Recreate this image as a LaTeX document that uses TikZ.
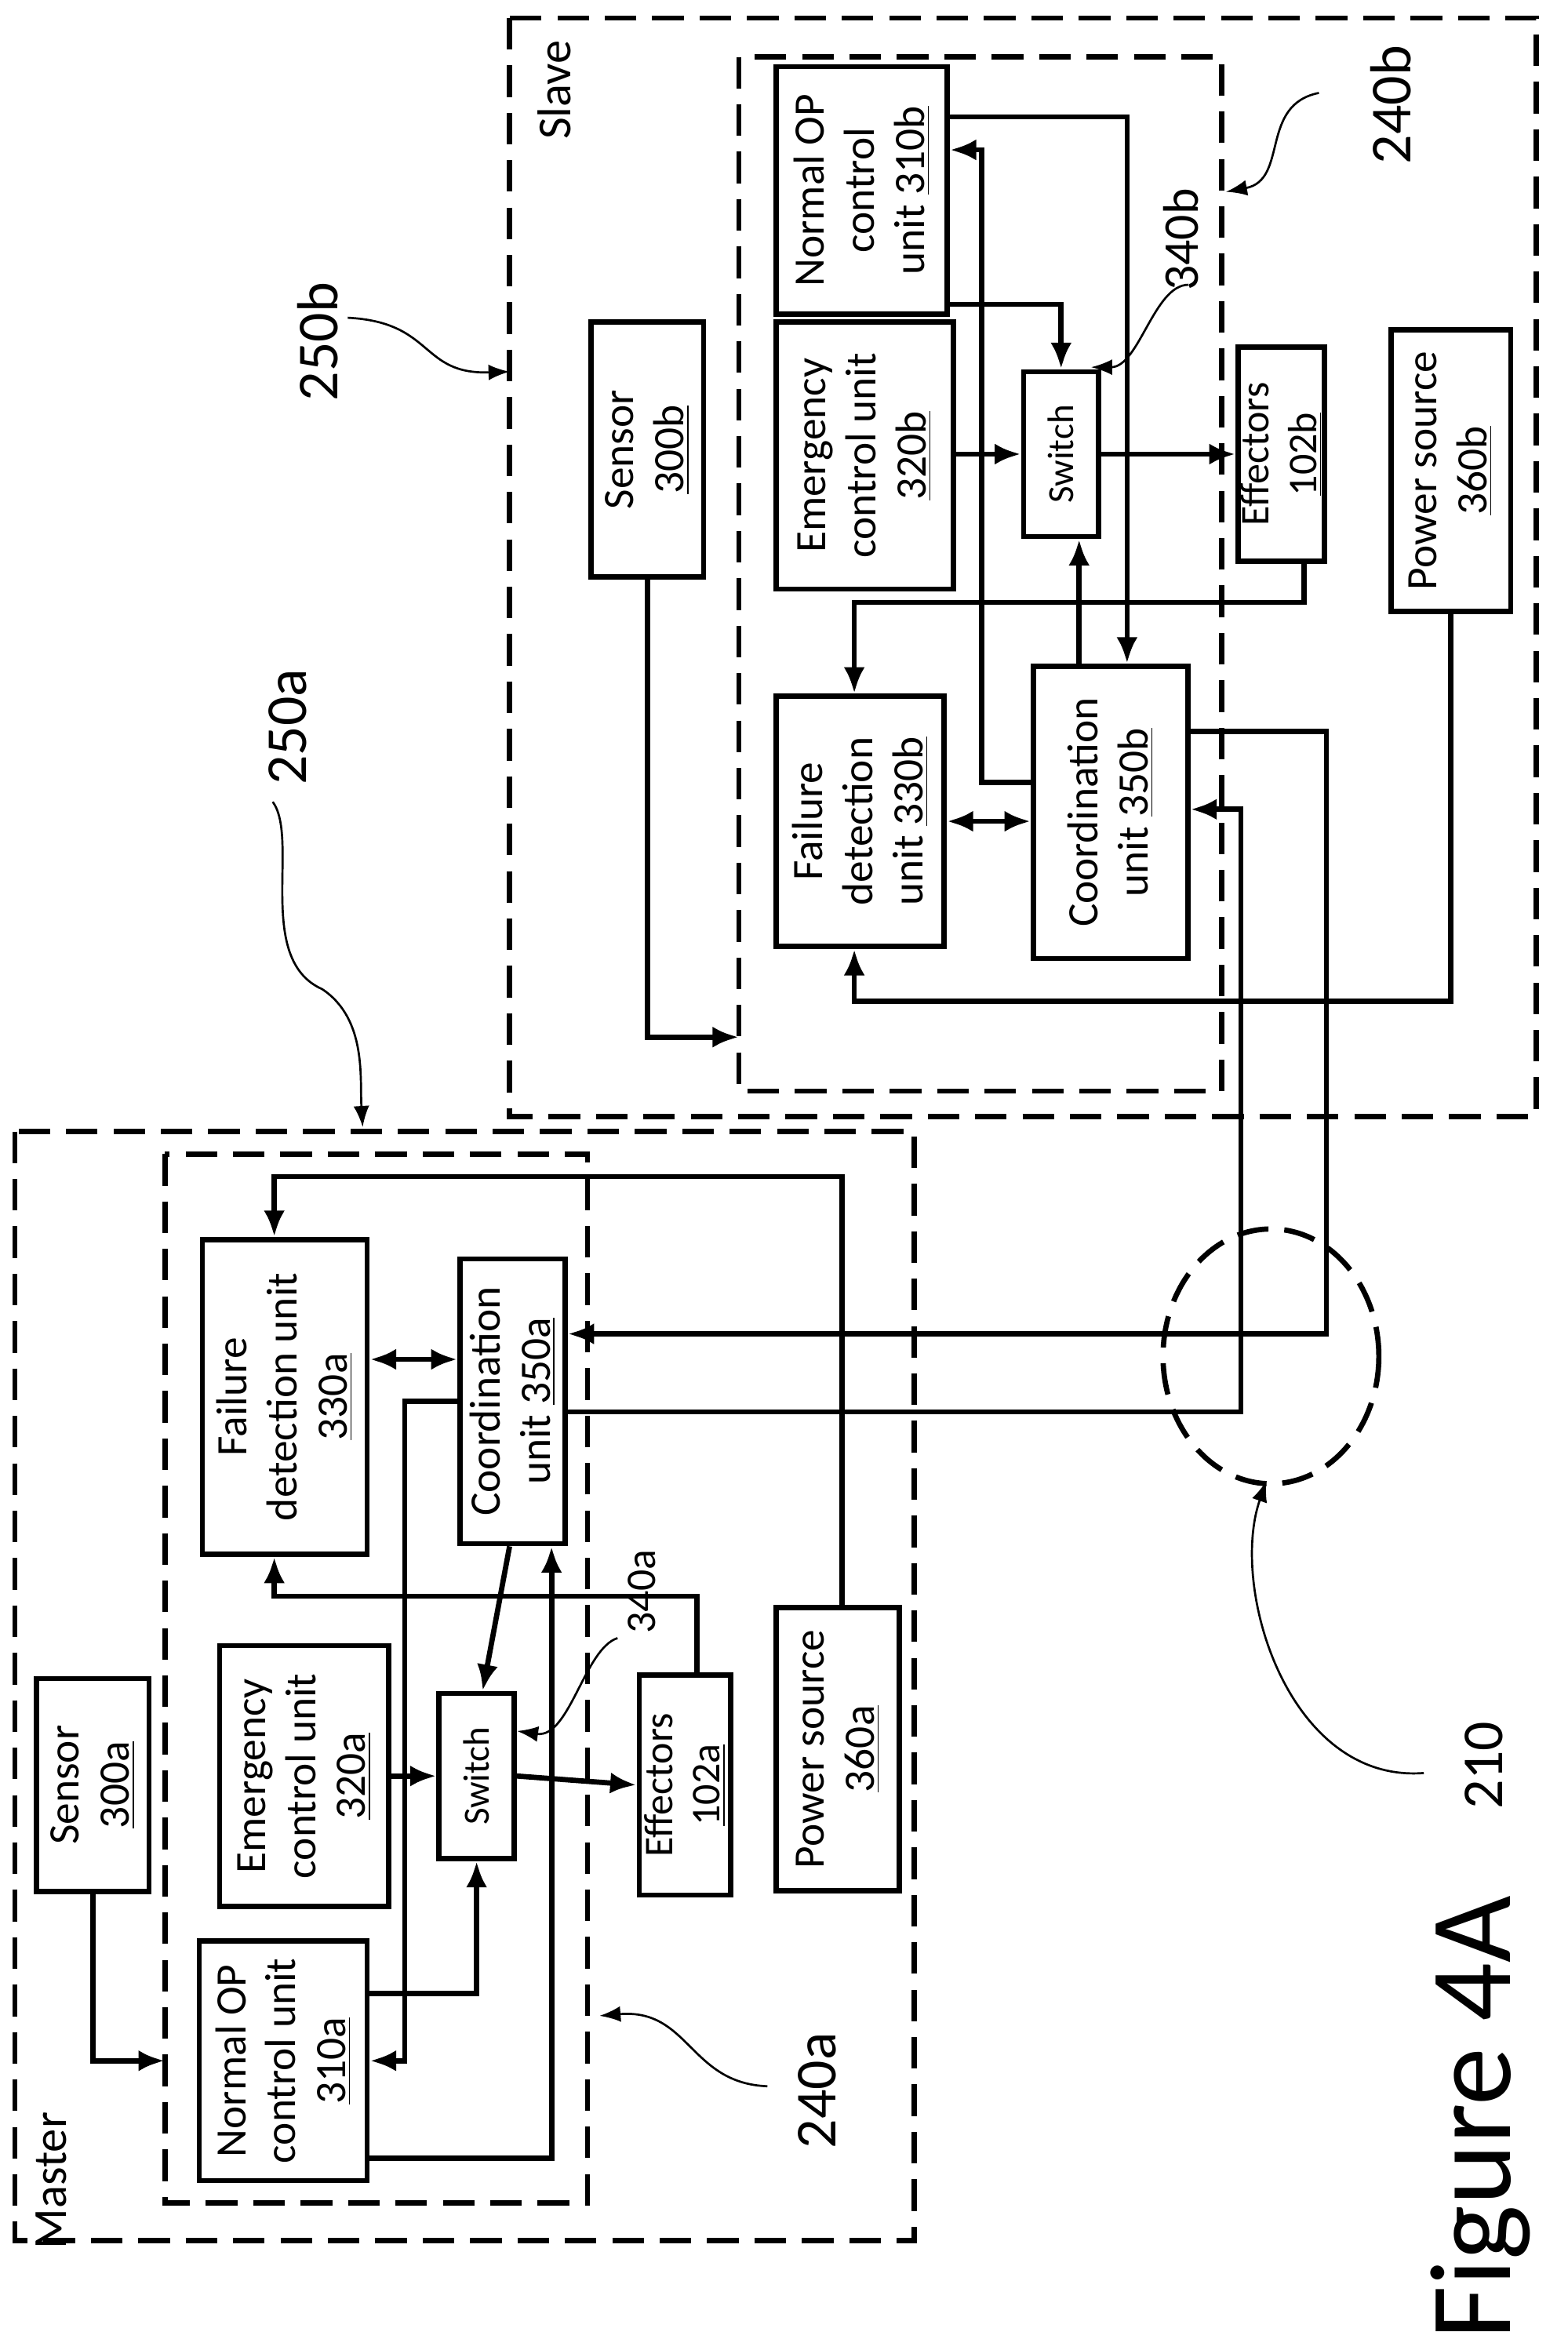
\documentclass[tikz,border=0pt]{standalone}
\usepackage{fontspec}
\setmainfont{Carlito}
\usetikzlibrary{arrows.meta}

\tikzset{
  blk/.style 2 args={draw, line width=2pt, rotate=90, align=center, inner sep=1pt,
    minimum width=#1*0.02cm, minimum height=#2*0.02cm, font=\fontsize{16.5}{19}\selectfont},
  frame/.style={line width=2pt, dash pattern=on 12pt off 6pt},
  wire/.style={line width=2pt, -{Latex[length=10pt,width=8pt]}},
  both/.style={line width=2pt, {Latex[length=10pt,width=8pt]}-{Latex[length=10pt,width=8pt]}},
  lead/.style={line width=0.8pt, -{Latex[length=8pt,width=6pt]}},
  lbl/.style={rotate=90, font=\fontsize{22}{24}\selectfont},
}

\begin{document}
\begin{tikzpicture}[x=0.02cm, y=-0.02cm]
  \useasboundingbox (0,0) rectangle (1046,1568);

  % frames
  \draw[frame] (340,12) rectangle (1025,745);
  \draw[frame] (493,38) rectangle (815,728);
  \draw[frame] (10,755) rectangle (610,1495);
  \draw[frame] (110,770) rectangle (392,1470);
  \draw[frame] (848,905) ellipse (72 and 85);

  % slave blocks
  \node[blk={170}{75}] (s300b) at (432,300) {Sensor\\\underline{300b}};
  \node[blk={165}{114}] (n310b) at (575,127) {Normal OP\\control\\unit \underline{310b}};
  \node[blk={178}{118}] (e320b) at (577,304) {Emergency\\control unit\\\underline{320b}};
  \node[blk={110}{50}, font=\fontsize{14}{16}\selectfont] (w340b) at (708,303) {Switch};
  \node[blk={143}{55}, font=\fontsize{15.5}{18}\selectfont] (f102b) at (855,303) {Effectors\\\underline{102b}};
  \node[blk={188}{80}] (p360b) at (968,314) {Power source\\\underline{360b}};
  \node[blk={167}{112}] (d330b) at (574,548) {Failure\\detection\\unit \underline{330b}};
  \node[blk={195}{103}] (c350b) at (741,542) {Coordination\\unit \underline{350b}};

  % master blocks
  \node[blk={142}{75}] (s300a) at (62,1191) {Sensor\\\underline{300a}};
  \node[blk={160}{112}] (n310a) at (189,1375) {Normal OP\\control unit\\\underline{310a}};
  \node[blk={174}{113}] (e320a) at (203,1185) {Emergency\\control unit\\\underline{320a}};
  \node[blk={110}{50}, font=\fontsize{14}{16}\selectfont] (w340a) at (318,1185) {Switch};
  \node[blk={147}{61}, font=\fontsize{15.5}{18}\selectfont] (f102a) at (457,1191) {Effectors\\\underline{102a}};
  \node[blk={189}{82}] (p360a) at (559,1167) {Power source\\\underline{360a}};
  \node[blk={210}{110}] (d330a) at (190,932) {Failure\\detection unit\\\underline{330a}};
  \node[blk={190}{70}] (c350a) at (342,935) {Coordination\\unit \underline{350a}};

  % slave wiring
  \draw[wire] (s300b.west) -- (432,692) -- (493,692);
  \draw[wire] (n310b.south |- 0,78) -- (752,78) -- (752,0 |- c350b.east);
  \draw[wire] (n310b.south |- 0,203) -- (708,203) -- (w340b.east);
  \draw[wire] (e320b.south |- 0,303) -- (w340b.north);
  \draw[wire] (w340b.south) -- (f102b.north);
  \draw[wire] (720,0 |- c350b.east) -- (720,0 |- w340b.west);
  \draw[wire] (c350b.north |- 0,522) -- (655,522) -- (655,100) -- (n310b.south |- 0,100);
  \draw[wire] (870,0 |- f102b.west) -- (870,402) -- (570,402) -- (570,0 |- d330b.east);
  \draw[both] (d330b.south) -- (c350b.north |- d330b.south);
  \draw[wire] (p360b.west) -- (968,668) -- (570,668) -- (570,0 |- d330b.west);
  \draw[wire] (c350b.south |- 0,488) -- (885,488) -- (885,890) -- (c350a.south |- 0,890);
  \draw[wire] (c350a.south |- 0,942) -- (828,942) -- (828,540) -- (c350b.south |- 0,540);

  % master wiring
  \draw[wire] (562,0 |- p360a.east) -- (562,785) -- (183,785) -- (183,0 |- d330a.east);
  \draw[both] (d330a.south |- 0,907) -- (c350a.north |- 0,907);
  \draw[wire] (c350a.north |- 0,935) -- (270,935) -- (270,1375) -- (n310a.south |- 0,1375);
  \draw[wire] (n310a.south |- 0,1330) -- (318,1330) -- (w340a.west);
  \draw[wire] (n310a.south |- 0,1440) -- (368,1440) -- (368,0 |- c350a.west);
  \draw[wire] (340,0 |- c350a.west) -- (322,0 |- w340a.east);
  \draw[wire] (e320a.south |- 0,1185) -- (w340a.north);
  \draw[wire] (w340a.south) -- (f102a.north);
  \draw[wire] (465,0 |- f102a.east) -- (465,1065) -- (183,1065) -- (183,0 |- d330a.west);
  \draw[wire] (s300a.west) -- (62,1375) -- (110,1375);

  % labels
  \node[rotate=90, font=\fontsize{18}{20}\selectfont] (slave) at (370,60) {Slave};
  \node[rotate=90, font=\fontsize{18}{20}\selectfont] (master) at (34,1455) {Master};
  \node[lbl] (l250b) at (212,228) {250b};
  \node[lbl] (l250a) at (192,485) {250a};
  \node[lbl] (l240b) at (928,70) {240b};
  \node[lbl] (l240a) at (545,1395) {240a};
  \node[lbl, font=\fontsize{19}{22}\selectfont] (l340b) at (788,160) {340b};
  \node[lbl, font=\fontsize{16}{20}\selectfont] (l340a) at (428,1062) {340a};
  \node[lbl] (l210) at (990,1178) {210};
  \node[rotate=90, font=\fontsize{44}{50}\selectfont] (fig) at (988,1413) {Figure 4A};

  % leaders
  \draw[lead] (232,212) .. controls (290,215) and (280,250) .. (340,248);
  \draw[lead] (182,535) .. controls (200,560) and (170,640) .. (215,660) .. controls (245,680) and (240,720) .. (242,752);
  \draw[lead] (880,62) .. controls (840,70) and (860,120) .. (818,128);
  \draw[lead] (512,1392) .. controls (460,1390) and (460,1340) .. (400,1345);
  \draw[lead] (793,190) .. controls (770,190) and (760,245) .. (728,245);
  \draw[lead] (412,1093) .. controls (390,1100) and (380,1160) .. (345,1155);
  \draw[lead] (950,1183) .. controls (860,1190) and (820,1060) .. (845,988);
\end{tikzpicture}
\end{document}
